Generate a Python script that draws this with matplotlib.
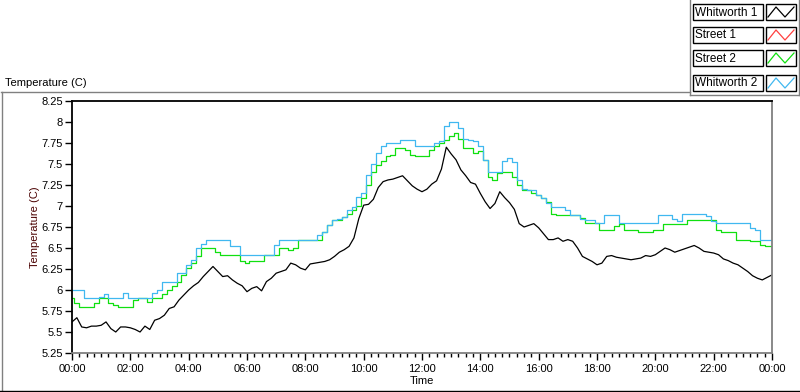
import matplotlib
matplotlib.use("Agg")
import matplotlib.pyplot as plt
from matplotlib.lines import Line2D
from matplotlib.patches import Rectangle
from matplotlib.ticker import MultipleLocator, FuncFormatter
import numpy as np

# Readings every 10 minutes, 00:00 .. 24:00 (145 points)
whitworth_1 = [
    5.62, 5.67, 5.56, 5.55, 5.57, 5.57,
    5.58, 5.62, 5.54, 5.50, 5.56, 5.56,
    5.55, 5.53, 5.50, 5.57, 5.53, 5.64,
    5.66, 5.70, 5.78, 5.80, 5.88, 5.94,
    6.00, 6.05, 6.09, 6.16, 6.22, 6.28,
    6.22, 6.16, 6.17, 6.12, 6.08, 6.05,
    5.98, 6.02, 6.04, 5.99, 6.10, 6.14,
    6.20, 6.22, 6.24, 6.32, 6.30, 6.26,
    6.24, 6.31, 6.32, 6.33, 6.34, 6.36,
    6.40, 6.45, 6.48, 6.52, 6.62, 6.85,
    7.01, 7.02, 7.08, 7.22, 7.29, 7.31,
    7.32, 7.34, 7.36, 7.30, 7.24, 7.20,
    7.17, 7.20, 7.26, 7.30, 7.44, 7.70,
    7.62, 7.55, 7.43, 7.36, 7.28, 7.26,
    7.15, 7.05, 6.97, 7.03, 7.17, 7.10,
    7.04, 6.96, 6.79, 6.75, 6.77, 6.79,
    6.74, 6.67, 6.60, 6.60, 6.62, 6.58,
    6.60, 6.58, 6.50, 6.40, 6.37, 6.34,
    6.30, 6.32, 6.40, 6.41, 6.39, 6.38,
    6.37, 6.36, 6.37, 6.38, 6.41, 6.40,
    6.42, 6.46, 6.50, 6.48, 6.45, 6.47,
    6.49, 6.51, 6.53, 6.50, 6.46, 6.45,
    6.44, 6.42, 6.37, 6.35, 6.32, 6.30,
    6.26, 6.22, 6.17, 6.14, 6.12, 6.15,
    6.18,
]

street_1 = []  # not visible in the chart

street_2 = [
    5.90, 5.84, 5.80, 5.80, 5.80, 5.84,
    5.90, 5.90, 5.85, 5.82, 5.80, 5.80,
    5.80, 5.88, 5.90, 5.90, 5.86, 5.90,
    5.90, 5.95, 6.00, 6.05, 6.10, 6.18,
    6.26, 6.32, 6.40, 6.50, 6.50, 6.50,
    6.45, 6.42, 6.42, 6.42, 6.42, 6.35,
    6.32, 6.35, 6.35, 6.35, 6.42, 6.42,
    6.42, 6.50, 6.50, 6.48, 6.50, 6.60,
    6.60, 6.60, 6.60, 6.60, 6.69, 6.77,
    6.83, 6.83, 6.87, 6.90, 6.95, 7.00,
    7.09, 7.25, 7.40, 7.49, 7.53, 7.59,
    7.61, 7.69, 7.69, 7.67, 7.61, 7.60,
    7.59, 7.59, 7.67, 7.71, 7.75, 7.79,
    7.83, 7.87, 7.80, 7.69, 7.69, 7.63,
    7.66, 7.55, 7.35, 7.31, 7.39, 7.40,
    7.41, 7.35, 7.25, 7.19, 7.19, 7.15,
    7.13, 7.09, 7.05, 6.91, 6.89, 6.89,
    6.89, 6.89, 6.89, 6.86, 6.80, 6.80,
    6.80, 6.72, 6.71, 6.72, 6.76, 6.78,
    6.71, 6.71, 6.71, 6.69, 6.69, 6.69,
    6.72, 6.72, 6.79, 6.79, 6.79, 6.79,
    6.79, 6.83, 6.83, 6.83, 6.83, 6.83,
    6.83, 6.71, 6.69, 6.69, 6.69, 6.60,
    6.60, 6.60, 6.58, 6.58, 6.53, 6.52,
    6.52,
]

whitworth_2 = [
    6.00, 6.00, 6.00, 5.90, 5.90, 5.90,
    5.92, 5.95, 5.90, 5.90, 5.90, 5.96,
    5.90, 5.90, 5.90, 5.90, 5.90, 5.96,
    6.00, 6.10, 6.10, 6.10, 6.20, 6.20,
    6.30, 6.36, 6.50, 6.55, 6.60, 6.60,
    6.60, 6.60, 6.60, 6.52, 6.52, 6.42,
    6.42, 6.42, 6.42, 6.42, 6.42, 6.42,
    6.54, 6.60, 6.60, 6.60, 6.60, 6.60,
    6.60, 6.60, 6.60, 6.65, 6.69, 6.77,
    6.83, 6.85, 6.87, 6.95, 6.99, 7.11,
    7.15, 7.37, 7.50, 7.63, 7.71, 7.75,
    7.75, 7.75, 7.79, 7.79, 7.79, 7.71,
    7.71, 7.71, 7.71, 7.75, 7.77, 7.95,
    8.00, 8.00, 7.93, 7.80, 7.79, 7.77,
    7.72, 7.55, 7.41, 7.41, 7.41, 7.53,
    7.57, 7.52, 7.31, 7.20, 7.19, 7.19,
    7.13, 7.10, 7.03, 6.99, 6.99, 6.99,
    6.95, 6.89, 6.89, 6.85, 6.83, 6.83,
    6.80, 6.80, 6.89, 6.89, 6.89, 6.80,
    6.80, 6.80, 6.80, 6.80, 6.80, 6.80,
    6.80, 6.89, 6.89, 6.89, 6.85, 6.82,
    6.90, 6.90, 6.90, 6.90, 6.90, 6.88,
    6.82, 6.80, 6.80, 6.80, 6.80, 6.80,
    6.80, 6.80, 6.74, 6.72, 6.60, 6.60,
    6.60,
]

hours = np.arange(len(whitworth_1)) / 6.0

names = ["Whitworth 1", "Street 1", "Street 2", "Whitworth 2"]
colors = ["#000000", "#ff4040", "#10e010", "#40b8f0"]

W, H = 800, 392
plt.rcParams["font.family"] = ["Liberation Sans", "DejaVu Sans"]
plt.rcParams["font.size"] = 8

fig = plt.figure(figsize=(W / 100, H / 100), dpi=100)
fig.patch.set_facecolor("white")

# plot area in pixels: x 72..772, y 101..353
ax = fig.add_axes([72 / W, 1 - 353 / H, 700 / W, 252 / H])

ax.plot(hours, whitworth_1, color=colors[0], lw=0.9)
if street_1:
    ax.plot(hours[:len(street_1)], street_1, color=colors[1], lw=0.9)
ax.plot(hours, street_2, color=colors[2], lw=0.9, drawstyle="steps-mid")
ax.plot(hours, whitworth_2, color=colors[3], lw=0.9, drawstyle="steps-mid")

ax.set_xlim(0, 24)
ax.set_ylim(5.25, 8.25)
ax.xaxis.set_major_locator(MultipleLocator(2))
ax.xaxis.set_minor_locator(MultipleLocator(0.25))
ax.yaxis.set_major_locator(MultipleLocator(0.25))
ax.xaxis.set_major_formatter(FuncFormatter(lambda v, p: f"{int(round(v)) % 24:02d}:00"))
ax.yaxis.set_major_formatter(FuncFormatter(lambda v, p: f"{v:g}"))
ax.tick_params(axis="x", which="major", length=5, width=1, pad=3, direction="out")
ax.tick_params(axis="x", which="minor", length=3, width=1, direction="out")
ax.tick_params(axis="y", which="major", length=5, width=1, pad=1.5, direction="out")

ax.spines["top"].set_color("black")
ax.spines["left"].set_color("black")
ax.spines["top"].set_linewidth(1.3)
ax.spines["left"].set_linewidth(1.3)
ax.spines["right"].set_color("#808080")
ax.spines["bottom"].set_color("#808080")
ax.spines["right"].set_linewidth(1.3)
ax.spines["bottom"].set_linewidth(1.3)

ax.set_xlabel("Time", labelpad=1)
ax.set_ylabel("Temperature (C)", labelpad=1, color="#4a0000")


def fx(x):
    return x / W


def fy(y):
    return 1 - y / H


def px_line(x0, y0, x1, y1, color, lw=1.0):
    fig.add_artist(Line2D([fx(x0), fx(x1)], [fy(y0), fy(y1)],
                          transform=fig.transFigure, color=color, lw=lw))


def px_rect(x0, y0, x1, y1, edge, lw=1.0):
    fig.add_artist(Rectangle((fx(x0), fy(y1)), fx(x1) - fx(x0), fy(y0) - fy(y1),
                             transform=fig.transFigure, facecolor="white",
                             edgecolor=edge, lw=lw))


# chart panel frame
fig.text(fx(5), fy(83), "Temperature (C)", ha="left", va="center")
px_line(1, 92, 690, 92, "#808080")
px_line(1.5, 92, 1.5, 392, "#808080")
px_line(0, 391, 800, 391, "black")

# legend panel
px_line(690, 0, 690, 95, "#808080")
px_line(690, 95, 799, 95, "#808080")
px_line(799, 0, 799, 95, "#808080")
rows = [4, 27, 50, 75]
for name, col, top in zip(names, colors, rows):
    px_rect(693, top, 763, top + 16, "black")
    fig.text(fx(695), fy(top + 8.5), name, ha="left", va="center", fontsize=8.5)
    px_rect(766, top, 796, top + 16, "black")
    zx = [768, 776, 785, 794]
    zy = [top + 13, top + 3, top + 13, top + 3]
    fig.add_artist(Line2D([fx(v) for v in zx], [fy(v) for v in zy],
                          transform=fig.transFigure, color=col, lw=0.9))

fig.savefig("out.png", dpi=100)
